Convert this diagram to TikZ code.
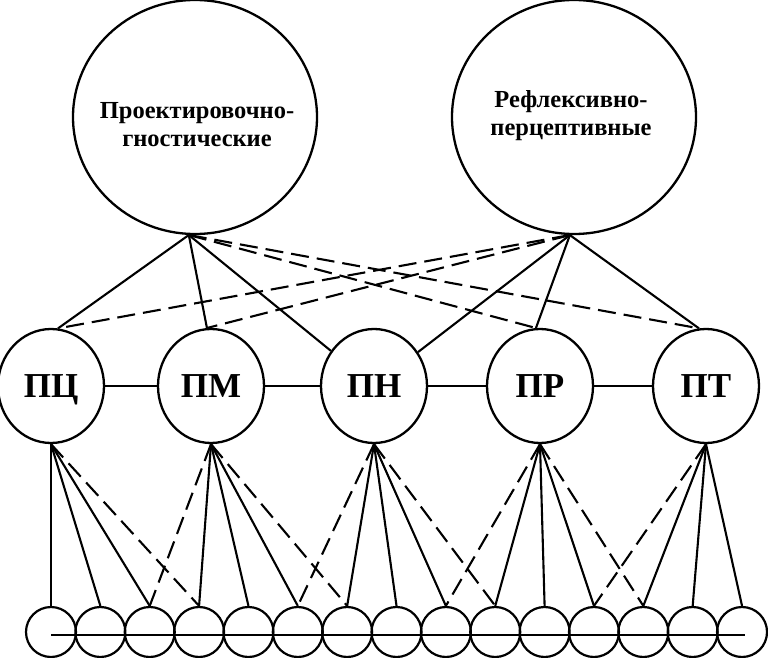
\documentclass[tikz,border=0pt]{standalone}
\usepackage{fontspec}
\setmainfont{Liberation Serif}
\usetikzlibrary{shapes.geometric}
\begin{document}
\begin{tikzpicture}[x=1pt,y=-1pt,
  big/.style={draw, ellipse, line width=2.3pt, minimum width=244pt, minimum height=234pt, inner sep=0pt},
  mid/.style={draw, ellipse, line width=2.3pt, minimum width=106pt, minimum height=114pt, inner sep=0pt,
    text height=23pt, text depth=0pt, font=\fontsize{35}{35}\selectfont\bfseries},
  small/.style={draw, circle, line width=2.2pt, minimum size=50pt, inner sep=0pt},
  lnk/.style={line width=2.1pt},
  dlnk/.style={line width=2.1pt, dash pattern=on 18pt off 8pt},
  toptext/.style={align=center, font=\fontsize{24.5}{28}\selectfont\bfseries}]
\useasboundingbox (0,0) rectangle (768,658);
% top circles
\node[big] (tl) at (195,117) {};
\node[big] (tr) at (574,117) {};
\node[toptext] (tlt) at (197,125) {Проектировочно-\\гностические};
\node[toptext] (trt) at (571,116) {Рефлексивно-\\перцептивные};
% middle circles
\node[mid] (pc) at (51,386) {ПЦ};
\node[mid] (pm) at (211,386) {ПМ};
\node[mid] (pn) at (374,386) {ПН};
\node[mid] (pr) at (540,386) {ПР};
\node[mid] (pt) at (706,386) {ПТ};
% bottom circles
\foreach \i in {1,...,15} {
  \node[small] (b\i) at ({51+49.36*(\i-1)},632) {};
}
\draw[lnk] ([yshift=-3pt]b1.center) -- ([yshift=-3pt,xshift=3pt]b15.center);
% middle horizontal links
\draw[lnk] (pc) -- (pm);
\draw[lnk] (pm) -- (pn);
\draw[lnk] (pn) -- (pr);
\draw[lnk] (pr) -- (pt);
% top to middle
\draw[lnk] (tl.267) -- (pc.83);
\draw[lnk] (tl.267) -- (pm.94);
\draw[lnk] (tl.267) -- (pn);
\draw[dlnk] (tl.267) -- (pr.94);
\draw[dlnk] (tl.267) -- (pt.97);
\draw[dlnk] (tr.268) -- (pc.83);
\draw[dlnk] (tr.268) -- (pm.94);
\draw[lnk] (tr.268) -- (pn);
\draw[lnk] (tr.268) -- (pr.94);
\draw[lnk] (tr.268) -- (pt.97);
% middle to bottom
\foreach \b in {1,2,3} \draw[lnk] (pc.south) -- (b\b.north);
\draw[dlnk] (pc.south) -- (b4.north);
\draw[dlnk] (pm.south) -- (b3.north);
\foreach \b in {4,5,6} \draw[lnk] (pm.south) -- (b\b.north);
\draw[dlnk] (pm.south) -- (b7.north);
\draw[dlnk] (pn.south) -- (b6.north);
\foreach \b in {7,8,9} \draw[lnk] (pn.south) -- (b\b.north);
\draw[dlnk] (pn.south) -- (b10.north);
\draw[dlnk] (pr.south) -- (b9.north);
\foreach \b in {10,11,12} \draw[lnk] (pr.south) -- (b\b.north);
\draw[dlnk] (pr.south) -- (b13.north);
\draw[dlnk] (pt.south) -- (b12.north);
\foreach \b in {13,14,15} \draw[lnk] (pt.south) -- (b\b.north);
\end{tikzpicture}
\end{document}
